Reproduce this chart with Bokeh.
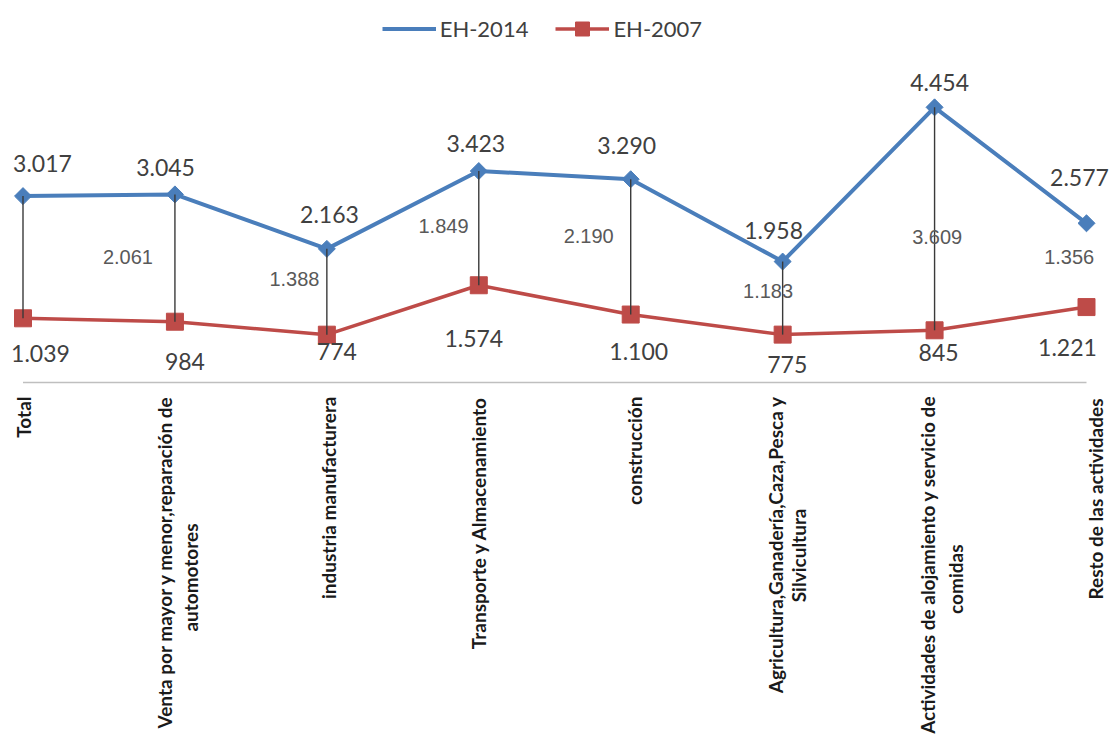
import math
from bokeh.plotting import figure
from bokeh.models import Range1d, ColumnDataSource, Legend, LegendItem
from bokeh.core.properties import value
from bokeh.embed import file_html
from bokeh.resources import INLINE

# ---------------- data ----------------
categories = [
    "Total",
    "Venta por mayor y menor,reparación de automotores",
    "industria manufacturera",
    "Transporte y Almacenamiento",
    "construcción",
    "Agricultura,Ganadería,Caza,Pesca y Silvicultura",
    "Actividades de alojamiento y servicio de comidas",
    "Resto de las actividades",
]
category_line1 = [
    "Total",
    "Venta por mayor y menor,reparación de",
    "industria manufacturera",
    "Transporte y Almacenamiento",
    "construcción",
    "Agricultura,Ganadería,Caza,Pesca y",
    "Actividades de alojamiento y servicio de",
    "Resto de las actividades",
]
category_line2 = ["", "automotores", "", "", "", "Silvicultura", "comidas", ""]
eh2014 = [3017, 3045, 2163, 3423, 3290, 1958, 4454, 2577]
eh2007 = [1039, 984, 774, 1574, 1100, 775, 845, 1221]
diferencia = [None, 2061, 1388, 1849, 2190, 1183, 3609, 1356]
series_names = ["EH-2014", "EH-2007"]
n_drop = 7  # categories with a high-low line

# ---------------- style / layout ----------------
W, H = 1110, 743
X0_PX, X7_PX = 22.5, 1086.0
Y0_PX = 382.0
PX_PER_UNIT = 0.06178
BLUE = "#4A7EBB"
RED = "#BE4B48"

lbl14_dx = [19.5, -9.4, 2.6, -3, -4, -9, 5, -7]
lbl14_dy = [-33, -27, -34, -27.5, -34, -31, -25, -46]
lbl07_dx = [17.5, 10, 10, -5, 8, 4.6, 4, -19]
lbl07_dy = [35, 40, 17, 53, 37, 30, 22, 40]
dif_dx = [0, -47, -32.4, -35.3, -42, -14.6, 2.6, -17.3]
dif_dy = [0, -1, -13, -2.6, -11, -7.5, 18, -8]
cat1_dx = [0.5, -10, 2, 0, 4, -7, -7, 9]
cat2_dx = [0, 16, 0, 0, 0, 16, 21, 0]
cat1_dy = [14, 13, 14, 14, 14, 14, 13, 16]
cat2_dy = [0, 141, 0, 0, 0, 126, 162, 0]


def fmt(v):
    return f"{v:,}".replace(",", ".")


n = len(categories)
xs = list(range(n))
ppx = (X7_PX - X0_PX) / (n - 1)
x_start = -X0_PX / ppx
x_end = (n - 1) + (W - X7_PX) / ppx
y_end = Y0_PX / PX_PER_UNIT
y_start = -(H - Y0_PX) / PX_PER_UNIT

p = figure(width=W, height=H, output_backend="svg", toolbar_location=None,
           x_range=Range1d(x_start, x_end), y_range=Range1d(y_start, y_end),
           min_border=0, min_border_left=0, min_border_right=0,
           min_border_top=0, min_border_bottom=0)
p.xaxis.visible = False
p.yaxis.visible = False
p.xgrid.visible = False
p.ygrid.visible = False
p.outline_line_color = None
p.background_fill_color = "white"
p.border_fill_color = "white"

# baseline (category axis)
p.segment(x0=[xs[0]], y0=[0], x1=[xs[-1]], y1=[0], line_color="#BFBFBF", line_width=1.6)

src = ColumnDataSource(dict(
    x=xs, y14=eh2014, y07=eh2007,
    mid=[(a + b) / 2 for a, b in zip(eh2014, eh2007)],
    t14=[fmt(v) for v in eh2014], t07=[fmt(v) for v in eh2007],
    tdif=[fmt(v) if v is not None else "" for v in diferencia],
    dx14=lbl14_dx, dy14=lbl14_dy, dx07=lbl07_dx, dy07=lbl07_dy,
    dxd=dif_dx, dyd=dif_dy,
))

l14 = p.line("x", "y14", source=src, line_color=BLUE, line_width=4)
m14 = p.scatter("x", "y14", source=src, marker="square", angle=math.pi / 4, size=12,
                fill_color=BLUE, line_color=BLUE)
l07 = p.line("x", "y07", source=src, line_color=RED, line_width=3.5)
m07 = p.scatter("x", "y07", source=src, marker="square", size=17,
                fill_color=RED, line_color=RED)

# high-low lines
p.segment(x0=xs[:n_drop], y0=eh2014[:n_drop], x1=xs[:n_drop], y1=eh2007[:n_drop],
          line_color="#3A3A3A", line_width=1.4)

# legend proxy (diamond for legend)
leg14 = p.scatter(x=[], y=[], marker="diamond", size=14, fill_color=BLUE, line_color=BLUE)
legend = Legend(items=[
    LegendItem(label=series_names[0], renderers=[l14, leg14]),
    LegendItem(label=series_names[1], renderers=[l07, m07]),
], orientation="horizontal", location=(381.7, H - 45.5),
    glyph_width=54, glyph_height=35, label_standoff=4, spacing=27,
    padding=0, margin=0, border_line_color=None, background_fill_alpha=0,
    label_text_font="Lato", label_text_font_size="22px",
    label_text_color="#404040")
p.add_layout(legend, "center")

# value labels
p.text("x", "y14", text="t14", source=src, x_offset="dx14", y_offset="dy14",
       text_align="center", text_baseline="middle", text_font=value("Lato"),
       text_font_size="23px", text_color="#404040")
p.text("x", "y07", text="t07", source=src, x_offset="dx07", y_offset="dy07",
       text_align="center", text_baseline="middle", text_font=value("Lato"),
       text_font_size="23px", text_color="#404040")
p.text("x", "mid", text="tdif", source=src, x_offset="dxd", y_offset="dyd",
       text_align="center", text_baseline="middle", text_font=value("Liberation Sans"),
       text_font_size="20px", text_color="#595959")

# category labels
zeros = [0] * n
src_c = ColumnDataSource(dict(x=xs, y=zeros, c1=category_line1, c2=category_line2,
                              c1dx=cat1_dx, c1dy=cat1_dy, c2dx=cat2_dx, c2dy=cat2_dy))
p.text("x", "y", text="c1", source=src_c, x_offset="c1dx", y_offset="c1dy",
       angle=math.pi / 2, text_align="right", text_baseline="middle",
       text_font=value("Lato"), text_font_style="bold", text_font_size="19px",
       text_color="#1A1A1A")
p.text("x", "y", text="c2", source=src_c, x_offset="c2dx", y_offset="c2dy",
       angle=math.pi / 2, text_align="right", text_baseline="middle",
       text_font=value("Lato"), text_font_style="bold", text_font_size="19px",
       text_color="#1A1A1A")

open("out.html", "w").write(file_html(p, INLINE))
